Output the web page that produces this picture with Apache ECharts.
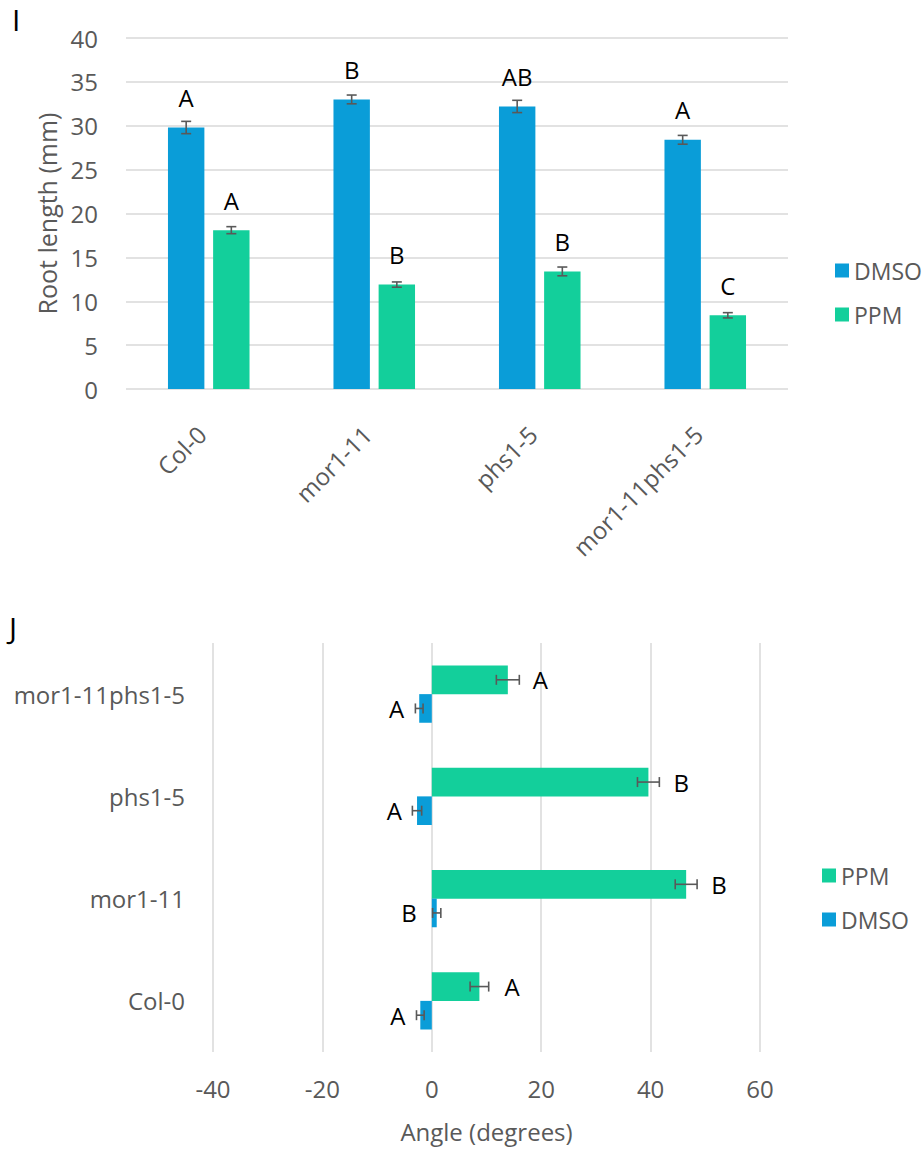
<!DOCTYPE html>
<html>
<head>
<meta charset="utf-8">
<script src="https://cdn.jsdelivr.net/npm/echarts@6/dist/echarts.min.js"></script>
<style>
  html, body { margin: 0; padding: 0; background: #fff; }
  #chart { width: 922px; height: 1149px; }
</style>
</head>
<body>
<div id="chart"></div>
<script>
// panel I: root length
const categories = ['Col-0', 'mor1-11', 'phs1-5', 'mor1-11phs1-5']
const rootDmso = [29.8, 33.0, 32.2, 28.4]
const rootDmsoErr = [0.7, 0.5, 0.7, 0.5]
const rootDmsoLetters = ['A', 'B', 'AB', 'A']
const rootPpm = [18.1, 11.9, 13.4, 8.4]
const rootPpmErr = [0.4, 0.3, 0.5, 0.3]
const rootPpmLetters = ['A', 'B', 'B', 'C']

// panel J: angle
const angleDmso = [-2.1, 0.9, -2.7, -2.3]
const angleDmsoErr = [0.7, 0.75, 0.85, 0.7]
const angleDmsoLetters = ['A', 'B', 'A', 'A']
const anglePpm = [8.7, 46.5, 39.6, 13.9]
const anglePpmErr = [1.7, 2.0, 2.0, 2.1]
const anglePpmLetters = ['A', 'B', 'B', 'A']

const blue = '#0A9DD8'
const green = '#13CF9B'
const grey = '#595959'
const font = 'Open Sans'

// bar layout fractions (of the category band)
const rootBarW = 0.22, rootGap = 0.24
const angleBarW = 0.28

function errorBars(horizontal, shift) {
  return function (params, api) {
    let style = { stroke: grey, lineWidth: 1.6 }
    let cap = 5
    if (!horizontal) {
      let idx = api.value(0), v = api.value(1), e = api.value(2)
      let band = api.size([1, 0])[0]
      let x = api.coord([idx, v])[0] + shift * band
      let y1 = api.coord([idx, v - e])[1]
      let y2 = api.coord([idx, v + e])[1]
      return { type: 'group', children: [
        { type: 'line', shape: { x1: x, y1: y1, x2: x, y2: y2 }, style: style },
        { type: 'line', shape: { x1: x - cap, y1: y1, x2: x + cap, y2: y1 }, style: style },
        { type: 'line', shape: { x1: x - cap, y1: y2, x2: x + cap, y2: y2 }, style: style }
      ] }
    }
    let v = api.value(0), idx = api.value(1), e = api.value(2)
    let band = api.size([0, 1])[1]
    let y = api.coord([v, idx])[1] + shift * band
    let x1 = api.coord([v - e, idx])[0]
    let x2 = api.coord([v + e, idx])[0]
    return { type: 'group', children: [
      { type: 'line', shape: { x1: x1, y1: y, x2: x2, y2: y }, style: style },
      { type: 'line', shape: { x1: x1, y1: y - cap, x2: x1, y2: y + cap }, style: style },
      { type: 'line', shape: { x1: x2, y1: y - cap, x2: x2, y2: y + cap }, style: style }
    ] }
  }
}

let ch = echarts.init(document.getElementById('chart'), null, { renderer: 'svg' })

let rootOff = rootBarW * (1 + rootGap) / 2
let angleOff = angleBarW / 2

let option = {
  animation: false,
  textStyle: { fontFamily: font },
  graphic: [
    { type: 'text', left: 12, top: 4, style: { text: 'I', fontSize: 30, fill: '#000', fontFamily: font } },
    { type: 'text', left: 9, top: 612, style: { text: 'J', fontSize: 30, fill: '#000', fontFamily: font } }
  ],
  legend: [
    {
      data: ['DMSO', 'PPM'],
      orient: 'vertical',
      left: 830,
      top: 254,
      icon: 'rect',
      itemWidth: 14,
      itemHeight: 14,
      itemGap: 21,
      textStyle: { color: grey, fontSize: 23, fontFamily: font }
    },
    {
      data: ['PPM', 'DMSO'],
      orient: 'vertical',
      left: 817,
      top: 859,
      icon: 'rect',
      itemWidth: 14,
      itemHeight: 14,
      itemGap: 21,
      textStyle: { color: grey, fontSize: 23, fontFamily: font }
    }
  ],
  grid: [
    { left: 126, top: 38, width: 662, height: 351 },
    { left: 213, top: 643, width: 547, height: 409 }
  ],
  xAxis: [
    {
      gridIndex: 0,
      type: 'category',
      data: categories,
      axisLine: { show: false },
      axisTick: { show: false },
      axisLabel: { rotate: 45, margin: 34, padding: [0, 10, 0, 0], color: grey, fontSize: 24, fontFamily: font }
    },
    {
      gridIndex: 1,
      type: 'value',
      min: -40,
      max: 60,
      interval: 20,
      name: 'Angle (degrees)',
      nameLocation: 'middle',
      nameGap: 67,
      nameTextStyle: { color: grey, fontSize: 24, fontFamily: font },
      axisLine: { show: false },
      axisTick: { show: false },
      splitLine: { show: true, lineStyle: { color: '#D9D9D9', width: 1.5 } },
      axisLabel: { margin: 24, color: grey, fontSize: 24, fontFamily: font }
    }
  ],
  yAxis: [
    {
      gridIndex: 0,
      type: 'value',
      min: 0,
      max: 40,
      interval: 5,
      name: 'Root length (mm)',
      nameLocation: 'middle',
      nameGap: 67,
      nameTextStyle: { color: grey, fontSize: 25, fontFamily: font },
      axisLine: { show: false },
      axisTick: { show: false },
      splitLine: { show: true, lineStyle: { color: '#D9D9D9', width: 1.5 } },
      axisLabel: { margin: 28, color: grey, fontSize: 24, fontFamily: font }
    },
    {
      gridIndex: 1,
      type: 'category',
      data: categories,
      axisLine: { show: false, onZero: false },
      axisTick: { show: false },
      axisLabel: { margin: 28, color: grey, fontSize: 24, fontFamily: font }
    }
  ],
  series: [
    {
      name: 'DMSO',
      type: 'bar',
      xAxisIndex: 0,
      yAxisIndex: 0,
      data: rootDmso,
      barWidth: rootBarW * 100 + '%',
      barGap: rootGap * 100 + '%',
      itemStyle: { color: blue },
      label: {
        show: true, position: 'top', distance: 18, color: '#000', fontSize: 24, fontFamily: font,
        formatter: p => rootDmsoLetters[p.dataIndex]
      }
    },
    {
      name: 'PPM',
      type: 'bar',
      xAxisIndex: 0,
      yAxisIndex: 0,
      data: rootPpm,
      barWidth: rootBarW * 100 + '%',
      barGap: rootGap * 100 + '%',
      itemStyle: { color: green },
      label: {
        show: true, position: 'top', distance: 18, color: '#000', fontSize: 24, fontFamily: font,
        formatter: p => rootPpmLetters[p.dataIndex]
      }
    },
    {
      type: 'custom',
      xAxisIndex: 0,
      yAxisIndex: 0,
      renderItem: errorBars(false, -rootOff),
      data: rootDmso.map((v, i) => [i, v, rootDmsoErr[i]]),
      z: 5
    },
    {
      type: 'custom',
      xAxisIndex: 0,
      yAxisIndex: 0,
      renderItem: errorBars(false, rootOff),
      data: rootPpm.map((v, i) => [i, v, rootPpmErr[i]]),
      z: 5
    },
    {
      name: 'PPM',
      type: 'bar',
      xAxisIndex: 1,
      yAxisIndex: 1,
      data: anglePpm,
      barWidth: angleBarW * 100 + '%',
      barGap: '0%',
      itemStyle: { color: green },
      label: {
        show: true, position: 'right', distance: 25, color: '#000', fontSize: 24, fontFamily: font,
        formatter: p => anglePpmLetters[p.dataIndex]
      }
    },
    {
      name: 'DMSO',
      type: 'bar',
      xAxisIndex: 1,
      yAxisIndex: 1,
      data: angleDmso,
      barWidth: angleBarW * 100 + '%',
      barGap: '0%',
      itemStyle: { color: blue },
      label: {
        show: true, position: 'left', distance: 15, color: '#000', fontSize: 24, fontFamily: font,
        formatter: p => angleDmsoLetters[p.dataIndex]
      }
    },
    {
      type: 'custom',
      xAxisIndex: 1,
      yAxisIndex: 1,
      renderItem: errorBars(true, -angleOff),
      data: anglePpm.map((v, i) => [v, i, anglePpmErr[i]]),
      z: 5
    },
    {
      type: 'custom',
      xAxisIndex: 1,
      yAxisIndex: 1,
      renderItem: errorBars(true, angleOff),
      data: angleDmso.map((v, i) => [v, i, angleDmsoErr[i]]),
      z: 5
    }
  ]
}
ch.setOption(option)
</script>
</body>
</html>
